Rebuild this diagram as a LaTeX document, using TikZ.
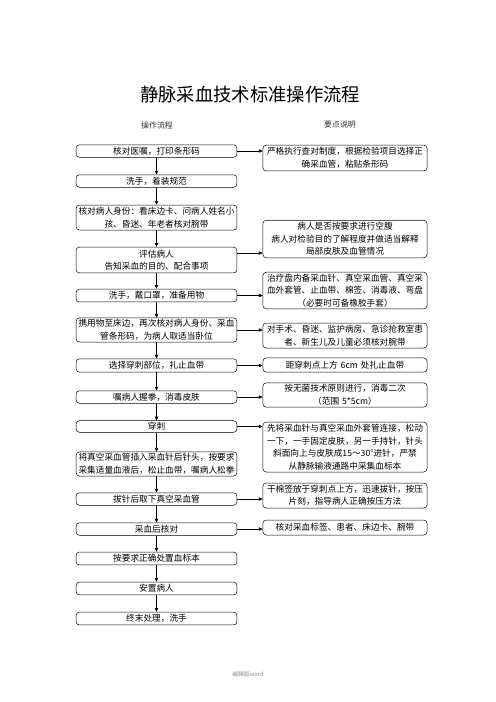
\documentclass[tikz,border=0pt]{standalone}
\usepackage{fontspec}
\setmainfont{Noto Sans CJK SC}
\usetikzlibrary{arrows.meta}
\begin{document}
\begin{tikzpicture}[x=1.2pt,y=-1.2pt,
  box/.style={draw=black,line width=0.6pt,rounded corners=4pt,inner xsep=1pt,inner ysep=0pt,align=center,font=\fontsize{10.4}{15}\selectfont},
  lbox/.style={box,minimum width=193pt,text width=191pt},
  rbox/.style={box,minimum width=197pt,text width=195pt},
  arr/.style={line width=0.8pt,-{Triangle[length=4.5pt,width=4pt]}}
]
\useasboundingbox (0,0) rectangle (496,702);
\node (title) at (250,95) {\fontsize{22}{26}\selectfont 静脉采血技术标准操作流程};
\node[text=black!80] (h1) at (157,125) {\fontsize{9.5}{11}\selectfont 操作流程};
\node[text=black!80] (h2) at (340,125) {\fontsize{9.5}{11}\selectfont 要点说明};

\node[lbox,minimum height=15pt] (L1) at (156.5,151) {核对医嘱，打印条形码};
\node[lbox,minimum height=15pt] (L2) at (156.5,181) {洗手，着装规范};
\node[lbox,minimum height=30pt] (L3) at (156.5,217.5) {核对病人身份：看床边卡、问病人姓名小\\孩、昏迷、年老者核对腕带};
\node[lbox,minimum height=31pt] (L4) at (156.5,260) {评估病人\\告知采血的目的、配合事项};
\node[lbox,minimum height=15.5pt] (L5) at (156.5,295.5) {洗手，戴口罩，准备用物};
\node[lbox,minimum height=29pt] (L6) at (156.5,330) {携用物至床边，再次核对病人身份、采血\\管条形码，为病人取适当卧位};
\node[lbox,minimum height=16pt] (L7) at (156.5,365.5) {选择穿刺部位，扎止血带};
\node[lbox,minimum height=15pt] (L8) at (156.5,397) {嘱病人握拳，消毒皮肤};
\node[lbox,minimum height=14pt] (L9) at (156.5,426.5) {穿刺};
\node[lbox,minimum height=29pt] (L10) at (156.5,464) {将真空采血管插入采血针后针头，按要求\\采集适量血液后，松止血带，嘱病人松拳};
\node[lbox,minimum height=15pt] (L11) at (156.5,499) {拔针后取下真空采血管};
\node[lbox,minimum height=15pt] (L12) at (156.5,529) {采血后核对};
\node[lbox,minimum height=15.5pt] (L13) at (156.5,558.5) {按要求正确处置血标本};
\node[lbox,minimum height=15.5pt] (L14) at (156.5,588.5) {安置病人};
\node[lbox,minimum height=15.5pt] (L15) at (156.5,618.5) {终末处理，洗手};

\node[rbox,minimum height=31pt] (R1) at (345,158) {严格执行查对制度，根据检验项目选择正\\确采血管，粘贴条形码};
\node[rbox,minimum height=45pt] (R2) at (345,239) {病人是否按要求进行空腹\\病人对检验目的了解程度并做适当解释\\局部皮肤及血管情况};
\node[rbox,minimum height=44pt] (R3) at (345,290.5) {治疗盘内备采血针、真空采血管、真空采\\血外套管、止血带、棉签、消毒液、弯盘\\（必要时可备橡胶手套）};
\node[rbox,minimum height=30pt] (R4) at (345,335.5) {对手术、昏迷、监护病房、急诊抢救室患\\者、新生儿及儿童必须核对腕带};
\node[rbox,minimum height=17pt] (R5) at (345,365) {距穿刺点上方 6cm 处扎止血带};
\node[rbox,minimum height=29pt] (R6) at (345,395) {按无菌技术原则进行，消毒二次\\（范围 5*5cm）};
\node[rbox,minimum height=60pt] (R7) at (345,447) {先将采血针与真空采血外套管连接，松动\\一下，一手固定皮肤，另一手持针，针头\\斜面向上与皮肤成15～30°进针，严禁\\从静脉输液通路中采集血标本};
\node[rbox,minimum height=30pt] (R8) at (345,495.5) {干棉签放于穿刺点上方，迅速拔针，按压\\片刻，指导病人正确按压方法};
\node[rbox,minimum height=18pt] (R9) at (345,527.5) {核对采血标签、患者、床边卡、腕带};

\foreach \a/\b in {L1/L2,L2/L3,L3/L4,L4/L5,L5/L6,L6/L7,L7/L8,L8/L9,L9/L10,L10/L11,L11/L12,L12/L13,L13/L14,L14/L15}
  \draw[arr] (\a.south) -- (\b.north);

\foreach \a/\b in {L1/R1,L5/R3,L6/R4,L7/R5,L8/R6,L9/R7,L11/R8,L12/R9}
  \draw[arr] (\a.east) -- (\a.east -| \b.west);
\draw[arr] ([yshift=8.4pt]L4.east) -- ([yshift=8.4pt]L4.east -| R2.west);

\node[text=black!45] (foot) at (248,674) {\fontsize{7}{8}\selectfont 编辑版word};
\end{tikzpicture}
\end{document}
